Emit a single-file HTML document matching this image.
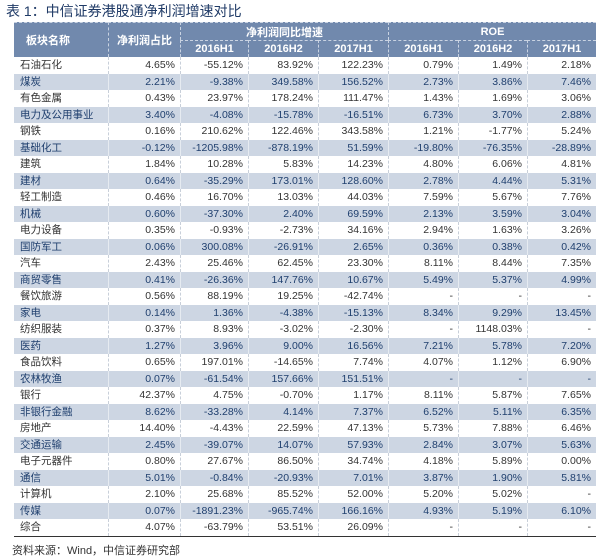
<!DOCTYPE html><html><head><meta charset="utf-8"><style>
body{margin:0;width:603px;height:558px;background:#fff;font-family:"Liberation Sans","Noto Sans CJK SC",sans-serif;position:relative;overflow:hidden}
.t{position:absolute;left:6px;top:1px;font-size:14px;color:#1f3a66}
.s{position:absolute;left:12px;top:542px;font-size:11px;color:#333}
.hd{position:absolute;background:#7189ad;color:#fff;font-weight:bold;font-size:11px;display:flex;align-items:center;justify-content:center;box-sizing:border-box;border-left:1px dashed #c9d3e2;border-top:1px dashed #c9d3e2}
#body{position:absolute;left:14px;top:57px;width:582px;border-bottom:1.5px solid #333}
.r{display:flex;height:16.5px;min-height:16.5px;flex:none;line-height:16.5px;font-size:10.5px;color:#333}
.r.b{background:#cdd6e3;color:#1f3f6e}
.r div{box-sizing:border-box;padding:0 5px;text-align:right;white-space:nowrap;border-left:1px dashed #c8cfd9}
.r.b div{border-left:1px solid #e6ebf1}
.r div:nth-child(1){width:94px;text-align:left;padding-left:6px;border-left:none!important}
.r div:nth-child(2){width:72px}.r div:nth-child(3){width:68px}.r div:nth-child(4){width:70px}
.r div:nth-child(5){width:70px}.r div:nth-child(6){width:70px}.r div:nth-child(7){width:69px}.r div:nth-child(8){width:69px}
</style></head><body>
<div class="t">表 1：中信证券港股通净利润增速对比</div>
<div class="hd" style="left:14px;top:22px;width:94px;height:35px;justify-content:flex-start;padding-left:12px;border-left:none">板块名称</div>
<div class="hd" style="left:108px;top:22px;width:72px;height:35px">净利润占比</div>
<div class="hd" style="left:180px;top:22px;width:208px;height:18px">净利润同比增速</div>
<div class="hd" style="left:388px;top:22px;width:208px;height:18px">ROE</div>
<div class="hd" style="left:180px;top:40px;width:68px;height:17px">2016H1</div>
<div class="hd" style="left:248px;top:40px;width:70px;height:17px">2016H2</div>
<div class="hd" style="left:318px;top:40px;width:70px;height:17px">2017H1</div>
<div class="hd" style="left:388px;top:40px;width:70px;height:17px">2016H1</div>
<div class="hd" style="left:458px;top:40px;width:69px;height:17px">2016H2</div>
<div class="hd" style="left:527px;top:40px;width:69px;height:17px">2017H1</div>
<div id="body">
<div class="r"><div>石油石化</div><div>4.65%</div><div>-55.12%</div><div>83.92%</div><div>122.23%</div><div>0.79%</div><div>1.49%</div><div>2.18%</div></div>
<div class="r b"><div>煤炭</div><div>2.21%</div><div>-9.38%</div><div>349.58%</div><div>156.52%</div><div>2.73%</div><div>3.86%</div><div>7.46%</div></div>
<div class="r"><div>有色金属</div><div>0.43%</div><div>23.97%</div><div>178.24%</div><div>111.47%</div><div>1.43%</div><div>1.69%</div><div>3.06%</div></div>
<div class="r b"><div>电力及公用事业</div><div>3.40%</div><div>-4.08%</div><div>-15.78%</div><div>-16.51%</div><div>6.73%</div><div>3.70%</div><div>2.88%</div></div>
<div class="r"><div>钢铁</div><div>0.16%</div><div>210.62%</div><div>122.46%</div><div>343.58%</div><div>1.21%</div><div>-1.77%</div><div>5.24%</div></div>
<div class="r b"><div>基础化工</div><div>-0.12%</div><div>-1205.98%</div><div>-878.19%</div><div>51.59%</div><div>-19.80%</div><div>-76.35%</div><div>-28.89%</div></div>
<div class="r"><div>建筑</div><div>1.84%</div><div>10.28%</div><div>5.83%</div><div>14.23%</div><div>4.80%</div><div>6.06%</div><div>4.81%</div></div>
<div class="r b"><div>建材</div><div>0.64%</div><div>-35.29%</div><div>173.01%</div><div>128.60%</div><div>2.78%</div><div>4.44%</div><div>5.31%</div></div>
<div class="r"><div>轻工制造</div><div>0.46%</div><div>16.70%</div><div>13.03%</div><div>44.03%</div><div>7.59%</div><div>5.67%</div><div>7.76%</div></div>
<div class="r b"><div>机械</div><div>0.60%</div><div>-37.30%</div><div>2.40%</div><div>69.59%</div><div>2.13%</div><div>3.59%</div><div>3.04%</div></div>
<div class="r"><div>电力设备</div><div>0.35%</div><div>-0.93%</div><div>-2.73%</div><div>34.16%</div><div>2.94%</div><div>1.63%</div><div>3.26%</div></div>
<div class="r b"><div>国防军工</div><div>0.06%</div><div>300.08%</div><div>-26.91%</div><div>2.65%</div><div>0.36%</div><div>0.38%</div><div>0.42%</div></div>
<div class="r"><div>汽车</div><div>2.43%</div><div>25.46%</div><div>62.45%</div><div>23.30%</div><div>8.11%</div><div>8.44%</div><div>7.35%</div></div>
<div class="r b"><div>商贸零售</div><div>0.41%</div><div>-26.36%</div><div>147.76%</div><div>10.67%</div><div>5.49%</div><div>5.37%</div><div>4.99%</div></div>
<div class="r"><div>餐饮旅游</div><div>0.56%</div><div>88.19%</div><div>19.25%</div><div>-42.74%</div><div>-</div><div>-</div><div>-</div></div>
<div class="r b"><div>家电</div><div>0.14%</div><div>1.36%</div><div>-4.38%</div><div>-15.13%</div><div>8.34%</div><div>9.29%</div><div>13.45%</div></div>
<div class="r"><div>纺织服装</div><div>0.37%</div><div>8.93%</div><div>-3.02%</div><div>-2.30%</div><div>-</div><div>1148.03%</div><div>-</div></div>
<div class="r b"><div>医药</div><div>1.27%</div><div>3.96%</div><div>9.00%</div><div>16.56%</div><div>7.21%</div><div>5.78%</div><div>7.20%</div></div>
<div class="r"><div>食品饮料</div><div>0.65%</div><div>197.01%</div><div>-14.65%</div><div>7.74%</div><div>4.07%</div><div>1.12%</div><div>6.90%</div></div>
<div class="r b"><div>农林牧渔</div><div>0.07%</div><div>-61.54%</div><div>157.66%</div><div>151.51%</div><div>-</div><div>-</div><div>-</div></div>
<div class="r"><div>银行</div><div>42.37%</div><div>4.75%</div><div>-0.70%</div><div>1.17%</div><div>8.11%</div><div>5.87%</div><div>7.65%</div></div>
<div class="r b"><div>非银行金融</div><div>8.62%</div><div>-33.28%</div><div>4.14%</div><div>7.37%</div><div>6.52%</div><div>5.11%</div><div>6.35%</div></div>
<div class="r"><div>房地产</div><div>14.40%</div><div>-4.43%</div><div>22.59%</div><div>47.13%</div><div>5.73%</div><div>7.88%</div><div>6.46%</div></div>
<div class="r b"><div>交通运输</div><div>2.45%</div><div>-39.07%</div><div>14.07%</div><div>57.93%</div><div>2.84%</div><div>3.07%</div><div>5.63%</div></div>
<div class="r"><div>电子元器件</div><div>0.80%</div><div>27.67%</div><div>86.50%</div><div>34.74%</div><div>4.18%</div><div>5.89%</div><div>0.00%</div></div>
<div class="r b"><div>通信</div><div>5.01%</div><div>-0.84%</div><div>-20.93%</div><div>7.01%</div><div>3.87%</div><div>1.90%</div><div>5.81%</div></div>
<div class="r"><div>计算机</div><div>2.10%</div><div>25.68%</div><div>85.52%</div><div>52.00%</div><div>5.20%</div><div>5.02%</div><div>-</div></div>
<div class="r b"><div>传媒</div><div>0.07%</div><div>-1891.23%</div><div>-965.74%</div><div>166.16%</div><div>4.93%</div><div>5.19%</div><div>6.10%</div></div>
<div class="r"><div>综合</div><div>4.07%</div><div>-63.79%</div><div>53.51%</div><div>26.09%</div><div>-</div><div>-</div><div>-</div></div>
</div>
<div class="s">资料来源：Wind，中信证券研究部</div>
</body></html>
